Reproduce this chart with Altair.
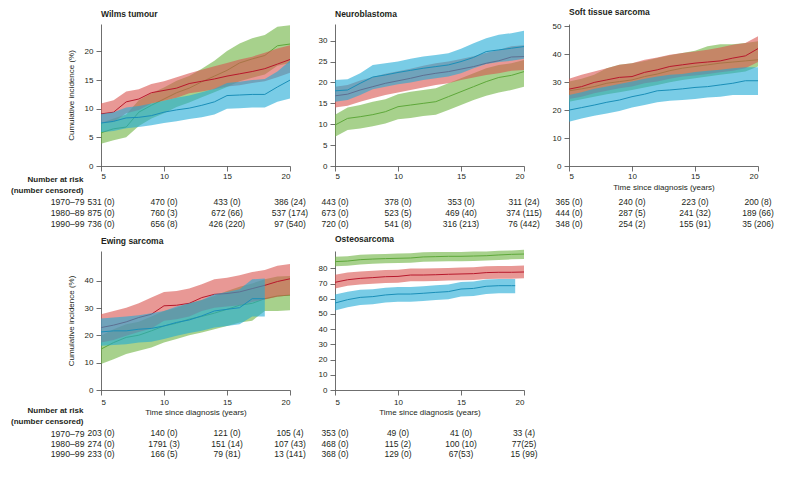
import altair as alt
import pandas as pd

FONT = "Liberation Sans"
PERIODS = ["1970–79", "1980–89", "1990–99"]
YEARS = list(range(5, 21))
TICK_T = [5, 10, 15, 20]

# ---- Wilms tumour ----
W_RED_EST = [9.1, 9.4, 11.2, 11.7, 12.8, 13.2, 13.6, 14.4, 14.8, 15.2, 15.7, 16.1, 16.5, 17.0, 17.8, 18.6]
W_RED_HI = [10.9, 11.5, 13.0, 13.4, 14.3, 14.8, 15.5, 16.2, 16.8, 17.4, 18.0, 18.6, 19.1, 19.8, 20.5, 21.1]
W_RED_LO = [7.5, 7.7, 9.2, 9.8, 10.9, 11.4, 11.9, 12.7, 13.0, 13.4, 13.9, 14.1, 14.5, 14.8, 15.5, 16.3]
W_GRN_EST = [5.8, 6.5, 6.8, 9.4, 10.6, 11.7, 12.8, 13.6, 14.7, 15.7, 16.7, 18.0, 18.7, 19.3, 21.0, 21.3]
W_GRN_HI = [7.5, 8.3, 9.0, 11.5, 12.7, 13.7, 14.9, 15.7, 17.0, 18.4, 20.1, 21.4, 22.3, 22.9, 24.3, 24.6]
W_GRN_LO = [3.9, 4.5, 5.0, 7.0, 8.3, 9.2, 10.3, 11.1, 12.0, 12.9, 13.8, 14.8, 15.4, 16.0, 17.5, 18.0]
W_BLU_EST = [7.5, 7.8, 8.4, 8.5, 8.8, 9.4, 9.8, 10.1, 10.6, 11.2, 12.3, 12.4, 12.5, 12.5, 13.8, 15.0]
W_BLU_HI = [9.1, 9.4, 10.2, 10.5, 10.9, 11.4, 11.9, 12.3, 12.9, 13.5, 14.5, 14.7, 15.0, 15.2, 16.5, 18.4]
W_BLU_LO = [5.9, 6.1, 6.6, 6.8, 7.1, 7.5, 7.8, 8.2, 8.5, 9.0, 10.0, 10.1, 10.2, 10.2, 11.2, 11.8]

# ---- Neuroblastoma ----
N_RED_EST = [16.8, 17.2, 18.2, 19.0, 19.8, 20.4, 21.0, 21.7, 22.2, 22.6, 23.2, 23.8, 24.6, 25.2, 26.1, 26.2]
N_RED_HI = [19.0, 19.4, 20.5, 21.3, 22.1, 22.7, 23.3, 24.0, 24.6, 25.0, 25.6, 26.3, 27.1, 27.8, 28.7, 28.9]
N_RED_LO = [14.0, 14.4, 15.4, 16.2, 17.0, 17.6, 18.2, 18.8, 19.4, 19.8, 20.6, 21.2, 21.8, 22.2, 22.8, 23.0]
N_GRN_EST = [9.8, 11.4, 11.8, 12.3, 13.0, 14.2, 14.6, 15.0, 15.4, 16.6, 17.8, 19.0, 20.2, 21.2, 21.7, 22.6]
N_GRN_HI = [12.3, 14.0, 14.6, 15.4, 16.0, 17.2, 17.8, 18.2, 18.6, 19.8, 21.0, 22.2, 23.4, 24.2, 24.6, 25.4]
N_GRN_LO = [7.0, 8.6, 9.0, 9.5, 10.2, 11.2, 11.5, 12.0, 12.3, 13.4, 14.6, 15.8, 16.8, 17.6, 18.2, 19.0]
N_BLU_EST = [18.0, 18.2, 19.8, 21.3, 21.8, 22.4, 22.9, 23.4, 23.8, 24.2, 25.0, 26.0, 27.4, 27.8, 28.2, 28.6]
N_BLU_HI = [20.6, 20.8, 22.2, 24.2, 24.6, 25.0, 25.7, 26.2, 26.6, 27.0, 28.1, 29.4, 30.6, 31.4, 31.8, 32.4]
N_BLU_LO = [15.4, 15.8, 17.0, 18.4, 19.0, 19.6, 20.0, 20.6, 21.0, 21.4, 22.2, 23.4, 24.4, 24.9, 25.2, 25.7]

# ---- Soft tissue sarcoma ----
S_RED_EST = [27.5, 28.4, 29.9, 30.8, 31.7, 32.0, 33.5, 34.4, 35.6, 36.2, 36.8, 37.2, 37.6, 38.6, 39.4, 42.0]
S_RED_HI = [31.2, 32.6, 33.8, 35.0, 36.2, 36.8, 38.0, 38.8, 39.8, 40.4, 41.0, 41.6, 42.4, 43.4, 44.0, 46.4]
S_RED_LO = [24.0, 24.8, 26.0, 26.9, 27.8, 28.4, 29.6, 30.2, 31.2, 32.0, 32.4, 32.9, 33.5, 34.1, 35.0, 37.2]
S_GRN_EST = [26.9, 27.6, 28.4, 29.6, 30.2, 30.8, 32.0, 32.9, 34.1, 35.0, 35.6, 36.2, 36.8, 37.2, 37.6, 38.0]
S_GRN_HI = [30.2, 31.2, 32.6, 35.0, 36.2, 36.8, 37.6, 38.6, 39.6, 40.4, 41.2, 42.8, 43.6, 43.6, 44.0, 44.6]
S_GRN_LO = [23.0, 23.9, 24.8, 25.7, 26.4, 27.2, 28.1, 29.0, 30.0, 30.8, 31.4, 32.0, 32.6, 33.2, 33.8, 35.6]
S_BLU_EST = [20.0, 20.9, 21.8, 22.8, 23.6, 24.8, 25.7, 26.9, 27.2, 27.6, 28.1, 28.4, 29.0, 29.6, 30.5, 30.5]
S_BLU_HI = [25.4, 26.4, 27.6, 28.4, 29.3, 30.2, 31.2, 32.0, 32.6, 32.9, 33.6, 34.1, 34.4, 35.0, 35.3, 35.3]
S_BLU_LO = [15.8, 17.0, 18.0, 18.8, 19.7, 20.9, 21.8, 22.8, 23.3, 23.6, 24.0, 24.5, 24.8, 25.4, 25.4, 25.4]

# ---- Ewing sarcoma ----
E_RED_EST = [22.9, 23.8, 25.0, 26.6, 27.8, 30.9, 31.1, 31.8, 33.9, 35.1, 35.4, 36.0, 37.2, 38.4, 39.8, 40.8]
E_RED_HI = [27.8, 29.0, 30.2, 31.8, 33.9, 36.0, 36.3, 37.2, 38.8, 40.6, 41.2, 42.1, 43.3, 44.0, 45.6, 46.2]
E_RED_LO = [17.4, 18.3, 19.9, 21.3, 22.6, 25.4, 26.0, 27.0, 29.0, 30.2, 30.6, 31.1, 32.3, 33.2, 34.2, 34.8]
E_GRN_EST = [15.0, 17.4, 19.3, 20.1, 21.7, 23.5, 24.5, 26.0, 27.0, 28.2, 29.6, 31.1, 31.8, 33.5, 34.5, 34.8]
E_GRN_HI = [19.9, 22.3, 24.1, 25.0, 27.0, 29.0, 30.2, 31.8, 33.0, 34.5, 36.3, 37.9, 39.1, 40.6, 41.6, 41.8]
E_GRN_LO = [9.5, 11.3, 13.2, 14.4, 15.6, 17.4, 18.7, 20.1, 21.1, 22.3, 23.5, 24.8, 25.4, 29.0, 29.0, 29.3]
E_BLU_T = list(range(5, 19))
E_BLU_EST = [21.3, 21.7, 21.7, 22.3, 22.6, 23.5, 24.8, 25.7, 27.2, 29.0, 29.6, 30.2, 33.5, 33.5]
E_BLU_HI = [26.2, 26.6, 27.0, 27.4, 28.2, 29.0, 30.6, 31.8, 33.0, 35.1, 36.0, 37.0, 40.6, 40.9]
E_BLU_LO = [16.2, 16.5, 16.8, 17.4, 17.7, 18.7, 19.9, 20.9, 21.7, 22.9, 23.5, 24.1, 27.0, 27.0]

# ---- Osteosarcoma ----
O_RED_EST = [70.8, 72.5, 73.4, 73.9, 74.5, 74.7, 75.6, 75.6, 75.8, 76.1, 76.3, 76.5, 77.2, 77.4, 77.4, 77.6]
O_RED_HI = [75.8, 77.2, 78.0, 78.4, 78.9, 79.1, 79.9, 79.9, 80.1, 80.3, 80.5, 80.7, 81.3, 81.5, 81.5, 81.8]
O_RED_LO = [66.8, 68.5, 69.3, 69.8, 70.4, 70.6, 71.5, 71.5, 71.7, 72.0, 72.2, 72.4, 73.0, 73.2, 73.2, 73.4]
O_GRN_EST = [84.4, 84.8, 85.7, 86.1, 86.4, 86.6, 86.8, 87.5, 87.7, 87.9, 87.9, 88.1, 88.3, 88.8, 89.2, 89.4]
O_GRN_HI = [87.6, 88.0, 88.9, 89.2, 89.5, 89.7, 89.9, 90.5, 90.7, 90.8, 90.8, 91.0, 91.1, 91.5, 91.8, 92.2]
O_GRN_LO = [81.3, 81.7, 82.6, 83.0, 83.3, 83.5, 83.7, 84.3, 84.5, 84.7, 84.7, 84.9, 85.1, 85.5, 85.9, 86.1]
O_BLU_T = list(range(5, 20)) + [19.3]
O_BLU_EST = [57.2, 59.4, 60.9, 61.4, 62.5, 63.1, 63.1, 63.6, 64.2, 64.7, 66.4, 66.8, 68.2, 68.6, 68.6, 68.6]
O_BLU_HI = [62.8, 64.6, 65.9, 66.3, 67.3, 67.8, 67.8, 68.3, 68.9, 69.4, 71.0, 71.4, 72.7, 73.0, 73.0, 73.0]
O_BLU_LO = [52.2, 54.4, 55.9, 56.4, 57.5, 58.1, 58.1, 58.6, 59.2, 59.7, 61.4, 61.8, 63.2, 63.6, 63.6, 63.6]

# ---- Number at risk (number censored) ----
W_RISK = [["531 (0)", "470 (0)", "433 (0)", "386 (24)"],
          ["875 (0)", "760 (3)", "672 (66)", "537 (174)"],
          ["736 (0)", "656 (8)", "426 (220)", "97 (540)"]]
N_RISK = [["443 (0)", "378 (0)", "353 (0)", "311 (24)"],
          ["673 (0)", "523 (5)", "469 (40)", "374 (115)"],
          ["720 (0)", "541 (8)", "316 (213)", "76 (442)"]]
S_RISK = [["365 (0)", "240 (0)", "223 (0)", "200 (8)"],
          ["444 (0)", "287 (5)", "241 (32)", "189 (66)"],
          ["348 (0)", "254 (2)", "155 (91)", "35 (206)"]]
E_RISK = [["203 (0)", "140 (0)", "121  (0)", "105 (4)"],
          ["274 (0)", "1791 (3)", "151 (14)", "107 (43)"],
          ["233 (0)", "166 (5)", "79 (81)", "13 (141)"]]
O_RISK = [["353 (0)", "49 (0)", "41 (0)", "33 (4)"],
          ["468 (0)", "115 (2)", "100 (10)", "77(25)"],
          ["368 (0)", "129 (0)", "67(53)", "15 (99)"]]

FILL = {"green": "#6db33f", "red": "#d9534f", "blue": "#1faad6"}
LINE = {"green": "#5ea83a", "red": "#b8182c", "blue": "#1a8fb8"}
TEXT = "#231f20"
AXC = "#4a4a4a"
PW = 189


def panel(title, series, ymax, yticks, ytitle, xtitle, height, xlabpad, xtitlepad):
    xs = alt.X("t:Q", scale=alt.Scale(domain=[5, 20], nice=False),
               axis=alt.Axis(values=TICK_T, title=xtitle, labelPadding=xlabpad,
                             titlePadding=xtitlepad, format="d"))
    yax = alt.Axis(values=yticks, title=ytitle, titlePadding=9, labelPadding=3)
    ysc = alt.Scale(domain=[0, ymax], nice=False, zero=True)
    layers = []
    for key, t, est, lo, hi in series:
        df = pd.DataFrame({"t": t, "est": est, "lo": lo, "hi": hi})
        base = alt.Chart(df)
        layers.append(base.mark_area(color=FILL[key], opacity=0.6).encode(
            x=xs, y=alt.Y("lo:Q", scale=ysc, axis=yax), y2="hi:Q"))
        layers.append(base.mark_line(color=LINE[key], strokeWidth=1).encode(
            x=xs, y=alt.Y("est:Q", scale=ysc, axis=yax)))
    return alt.layer(*layers).properties(
        width=PW, height=height,
        title=alt.TitleParams(title, anchor="start", frame="group", offset=6, fontSize=8.5,
                              font=FONT, fontWeight="bold", color=TEXT))


def table(rows, first, height, top_off):
    recs = []
    for p, row in zip(PERIODS, rows):
        for tt, s in zip(TICK_T, row):
            recs.append({"t": tt, "period": p, "txt": s})
    df = pd.DataFrame(recs)
    if first:
        yax = alt.Axis(title=["Number at risk", "(number censored)"], titleAngle=0,
                       titleAlign="right", titleBaseline="top", titleX=-18, titleY=top_off,
                       titleFontWeight="bold", titleFontSize=8, titleLineHeight=11.5,
                       titleFont=FONT, titleColor=TEXT,
                       labelPadding=17, ticks=False, domain=False, labelFontSize=8.7,
                       labelFont=FONT, labelColor=TEXT)
    else:
        yax = None
    return alt.Chart(df).mark_text(fontSize=8.5, font=FONT, color=TEXT).encode(
        x=alt.X("t:Q", scale=alt.Scale(domain=[5, 20], nice=False), axis=None),
        y=alt.Y("period:N", sort=PERIODS, axis=yax),
        text="txt:N",
    ).properties(width=PW, height=height)


CI = "Cumulative incidence (%)"
TX = "Time since diagnosis (years)"

wilms = panel("Wilms tumour", [
    ("green", YEARS, W_GRN_EST, W_GRN_LO, W_GRN_HI),
    ("red", YEARS, W_RED_EST, W_RED_LO, W_RED_HI),
    ("blue", YEARS, W_BLU_EST, W_BLU_LO, W_BLU_HI)],
    24.8, [0, 5, 10, 15, 20], CI, None, 142, 1, 3)
neuro = panel("Neuroblastoma", [
    ("green", YEARS, N_GRN_EST, N_GRN_LO, N_GRN_HI),
    ("red", YEARS, N_RED_EST, N_RED_LO, N_RED_HI),
    ("blue", YEARS, N_BLU_EST, N_BLU_LO, N_BLU_HI)],
    34, [0, 5, 10, 15, 20, 25, 30], None, None, 142, 1, 3)
soft = panel("Soft tissue sarcoma", [
    ("green", YEARS, S_GRN_EST, S_GRN_LO, S_GRN_HI),
    ("red", YEARS, S_RED_EST, S_RED_LO, S_RED_HI),
    ("blue", YEARS, S_BLU_EST, S_BLU_LO, S_BLU_HI)],
    50.8, [0, 10, 20, 30, 40, 50], None, TX, 142, 1, 3)
ewing = panel("Ewing sarcoma", [
    ("green", YEARS, E_GRN_EST, E_GRN_LO, E_GRN_HI),
    ("red", YEARS, E_RED_EST, E_RED_LO, E_RED_HI),
    ("blue", E_BLU_T, E_BLU_EST, E_BLU_LO, E_BLU_HI)],
    51, [0, 10, 20, 30, 40], CI, TX, 139, 3, 2)
osteo = panel("Osteosarcoma", [
    ("green", YEARS, O_GRN_EST, O_GRN_LO, O_GRN_HI),
    ("red", YEARS, O_RED_EST, O_RED_LO, O_RED_HI),
    ("blue", O_BLU_T, O_BLU_EST, O_BLU_LO, O_BLU_HI)],
    91.4, [0, 10, 20, 30, 40, 50, 60, 70, 80], None, TX, 139, 3, 2)

row1 = alt.concat(
    wilms, neuro, soft,
    table(W_RISK, True, 33, -21), table(N_RISK, False, 33, -21), table(S_RISK, False, 33, -21),
    columns=3, spacing={"row": 30, "column": 45}, bounds="flush")
row2 = alt.concat(
    ewing, osteo,
    table(E_RISK, True, 31, -22), table(O_RISK, False, 31, -22),
    columns=2, spacing={"row": 38, "column": 45}, bounds="flush")

chart = alt.vconcat(row1, row2, spacing=6).properties(
    padding={"left": 10, "top": 7, "right": 10, "bottom": 8},
    background="white",
).configure_view(stroke=None).configure_axis(
    grid=False, domainColor=AXC, tickColor=AXC, tickSize=5, domainWidth=0.8, tickWidth=0.8,
    labelFont=FONT, labelFontSize=8, labelColor=TEXT,
    titleFont=FONT, titleFontSize=8, titleFontWeight="normal", titleColor=TEXT,
)

chart.save("out.html", embed_options={"renderer": "svg", "actions": False})
